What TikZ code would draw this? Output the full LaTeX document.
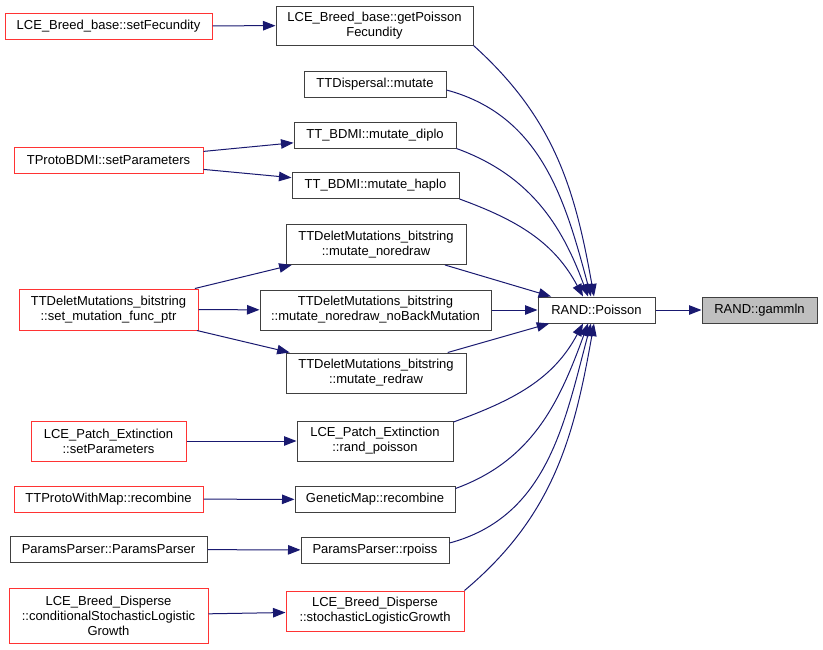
\documentclass[tikz,border=0pt]{standalone}
\usepackage{fontspec}
\setmainfont{Liberation Sans}
\usepackage{xcolor}
\usepackage{tikz}
\usetikzlibrary{positioning, arrows.meta, calc}
\definecolor{edgecolor}{RGB}{25,25,112}
\definecolor{callred}{RGB}{255,0,0}
\definecolor{rootgray}{RGB}{191,191,191}

\tikzset{
    fnode/.style={rectangle, draw=black!75, line width=1pt, inner sep=2pt, align=center,
        minimum height=26pt, font=\fontsize{13}{15}\selectfont},
    fnodered/.style={fnode, draw=callred!80},
    call/.style={draw=edgecolor, line width=1pt, -{Triangle[length=12.5pt, width=9.5pt]}},
}

\begin{document}
\begin{tikzpicture}[x=1pt, y=-1pt]
    \useasboundingbox (0,0) rectangle (823,649);

    % Fonction centrale
    \node[fnode, minimum width=117pt] (poisson) at (596.5,310) {RAND::Poisson};
    \node[fnode, fill=rootgray, minimum width=115pt] (gammln) at (759.5,310) {RAND::gammln};

    % Appelants directs
    \node[fnode, minimum width=197pt, minimum height=39pt] (getpois) at (374.5,25.5) {LCE\_Breed\_base::getPoisson\\Fecundity};
    \node[fnode, minimum width=142pt] (ttdisp) at (375,84) {TTDispersal::mutate};
    \node[fnode, minimum width=162pt] (diplo) at (375,135) {TT\_BDMI::mutate\_diplo};
    \node[fnode, minimum width=167pt] (haplo) at (375.5,185.5) {TT\_BDMI::mutate\_haplo};
    \node[fnode, minimum width=180pt, minimum height=40pt] (noredraw) at (376,244.5) {TTDeletMutations\_bitstring\\::mutate\_noredraw};
    \node[fnode, minimum width=231pt, minimum height=40pt] (noback) at (375.5,310) {TTDeletMutations\_bitstring\\::mutate\_noredraw\_noBackMutation};
    \node[fnode, minimum width=180pt, minimum height=40pt] (redraw) at (376,373) {TTDeletMutations\_bitstring\\::mutate\_redraw};
    \node[fnode, minimum width=156pt, minimum height=40pt] (randpois) at (375,441) {LCE\_Patch\_Extinction\\::rand\_poisson};
    \node[fnode, minimum width=160pt] (genmap) at (375,499.5) {GeneticMap::recombine};
    \node[fnode, minimum width=148pt] (rpoiss) at (375,550) {ParamsParser::rpoiss};
    \node[fnodered, minimum width=178pt, minimum height=40pt] (stoch) at (375,611) {LCE\_Breed\_Disperse\\::stochasticLogisticGrowth};

    % Appelants de second niveau
    \node[fnodered, minimum width=207pt] (setfec) at (108.5,26) {LCE\_Breed\_base::setFecundity};
    \node[fnodered, minimum width=189pt] (tproto) at (108.5,160.5) {TProtoBDMI::setParameters};
    \node[fnodered, minimum width=179pt, minimum height=41pt] (setmut) at (108.5,309.5) {TTDeletMutations\_bitstring\\::set\_mutation\_func\_ptr};
    \node[fnodered, minimum width=155pt, minimum height=40pt] (patchpar) at (108.5,441) {LCE\_Patch\_Extinction\\::setParameters};
    \node[fnodered, minimum width=189pt] (protomap) at (108.5,499) {TTProtoWithMap::recombine};
    \node[fnode, minimum width=197pt] (ppparser) at (108.5,549.5) {ParamsParser::ParamsParser};
    \node[fnodered, minimum width=199pt, minimum height=55pt] (condstoch) at (108.5,615.5) {LCE\_Breed\_Disperse\\::conditionalStochasticLogistic\\Growth};

    % Appels vers RAND::Poisson
    \draw[call] (poisson) -- (gammln);
    \draw[call] (getpois.south east) to[out=-42, in=100] ([xshift=-2.5pt]poisson.north);
    \draw[call] ([yshift=-6pt]ttdisp.east) to[out=-15, in=105] ([xshift=-5.5pt]poisson.north);
    \draw[call] (diplo.south east) to[out=-20, in=110] ([xshift=-8.5pt]poisson.north);
    \draw[call] (haplo.south east) to[out=-20, in=118] ([xshift=-13.5pt]poisson.north);
    \draw[call] (noredraw) -- (poisson);
    \draw[call] (noback) -- (poisson);
    \draw[call] (redraw) -- (poisson);
    \draw[call] ([yshift=19pt]randpois.east) to[out=20, in=-118] ([xshift=-13.5pt]poisson.south);
    \draw[call] ([yshift=11pt]genmap.east) to[out=20, in=-110] ([xshift=-8.5pt]poisson.south);
    \draw[call] ([yshift=7pt]rpoiss.east) to[out=15, in=-105] ([xshift=-5.5pt]poisson.south);
    \draw[call] (stoch.north east) to[out=40, in=-100] ([xshift=-2.5pt]poisson.south);

    % Appels de second niveau
    \draw[call] (setfec) -- (getpois);
    \draw[call] (tproto) -- (diplo);
    \draw[call] (tproto) -- (haplo);
    \draw[call] (setmut) -- (noredraw);
    \draw[call] (setmut) -- (noback);
    \draw[call] (setmut) -- (redraw);
    \draw[call] (patchpar) -- (randpois);
    \draw[call] (protomap) -- (genmap);
    \draw[call] (ppparser) -- (rpoiss);
    \draw[call] (condstoch) -- (stoch);
\end{tikzpicture}
\end{document}
